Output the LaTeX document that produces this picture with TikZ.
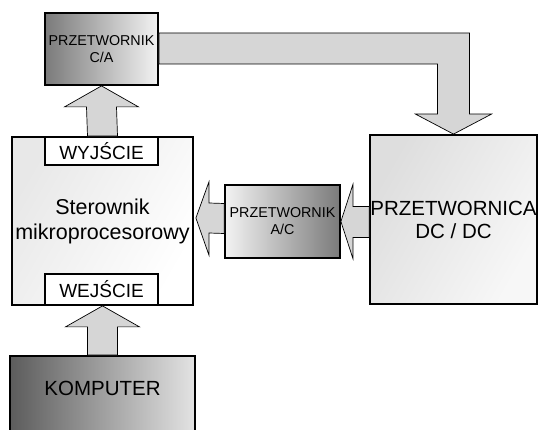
\documentclass[tikz,border=0pt]{standalone}
\usepackage{fontspec}
\setmainfont{Liberation Sans}
\usetikzlibrary{calc}
\definecolor{arrowfill}{gray}{0.84}
\begin{document}
\begin{tikzpicture}[x=1pt,y=-1pt,
  box/.style={draw=black, line width=1.8pt, inner sep=0pt, align=center},
  blockarrow/.style={draw=black, line width=0.7pt, fill=arrowfill, line join=miter},
  smalltxt/.style={font=\fontsize{14.3}{17}\selectfont},
  bigtxt/.style={font=\fontsize{20}{23}\selectfont},
]
\useasboundingbox (0,0) rectangle (539,430);
\fill[white] (0,0) rectangle (539,430);

% boxes
\node[box, smalltxt, minimum width=113pt, minimum height=72pt,
  left color={black!52}, right color={white!95!black}] (ca) at (101.5,49) {PRZETWORNIK\\C/A};
\node[box, bigtxt, minimum width=181pt, minimum height=168pt,
  left color={black!9}, right color=white, shading angle=60] (ster) at (102.5,221) {};
\node[box, font=\fontsize{19}{22}\selectfont, fill=white, minimum width=113pt, minimum height=28pt] (wyj) at (101.5,151) {WYJŚCIE};
\node[box, font=\fontsize{19}{22}\selectfont, fill=white, minimum width=113pt, minimum height=31pt] (wej) at (101.5,289.5) {WEJŚCIE};
\node[box, smalltxt, minimum width=115pt, minimum height=73pt,
  left color={white!95!black}, right color={black!52}] (ac) at (282.5,221.5) {PRZETWORNIK\\A/C};
\node[box, bigtxt, minimum width=167pt, minimum height=169pt,
  left color={black!13}, right color={white!97!black}, shading angle=60] (dc) at (453.5,219.5) {};
\node[box, minimum width=185pt, minimum height=90pt,
  left color={black!64}, right color={black!11}] (komp) at (102.5,401) {};

% block arrows
\draw[blockarrow] (ca.south) -- ++(37,21) -- ++(-22,0) -- ($(ster.north)+(15,0)$)
  -- ($(ster.north)+(-15,0)$) -- ($(ca.south)+(-15,21)$) -- ++(-22,0) -- cycle;
\draw[blockarrow] (ster.south) -- ++(37,21) -- ++(-22,0) -- ($(komp.north)+(15,0)$)
  -- ($(komp.north)+(-15,0)$) -- ($(ster.south)+(-15,21)$) -- ++(-22,0) -- cycle;
\draw[blockarrow] ($(ster.east)+(2,-3)$) -- ++(13,-36) -- ++(0,21) -- ($(ac.west)+(0,-18)$)
  -- ($(ac.west)+(0,12)$) -- ($(ster.east)+(15,12)$) -- ++(0,22) -- cycle;
\draw[blockarrow] (ac.east) -- ++(12,-37) -- ++(0,22) -- ($(dc.west)+(0,-13)$)
  -- ($(dc.west)+(0,18)$) -- ($(ac.east)+(12,16)$) -- ++(0,21) -- cycle;
\draw[blockarrow] ($(ca.east)+(0,-16)$) -| ($(dc.north)+(16,-20)$) -- ++(22,0) -- (dc.north)
  -- ($(dc.north)+(-38,-20)$) -- ++(22,0) |- ($(ca.east)+(0,15)$) -- cycle;

% texts
\node[bigtxt, align=center, font=\fontsize{21.5}{25}\selectfont] (stert) at (ster.center) {Sterownik\\mikroprocesorowy};
\node[bigtxt, align=center, font=\fontsize{20.5}{23}\selectfont] (dct) at (dc.center) {PRZETWORNICA\\DC / DC};
\node[font=\fontsize{20.5}{24}\selectfont] (kompt) at ($(komp.north)+(0,33)$) {KOMPUTER};
\end{tikzpicture}
\end{document}
